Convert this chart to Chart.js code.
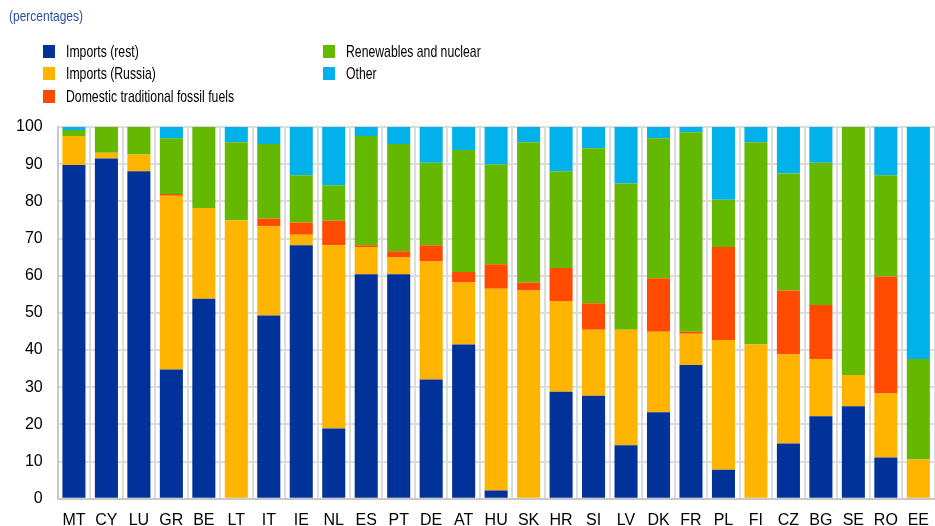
<!DOCTYPE html>
<html>
<head>
<meta charset="utf-8">
<script src="https://cdn.jsdelivr.net/npm/chart.js@4"></script>
<style>
  body { margin: 0; background: #fff; font-family: "Liberation Sans", Arial, sans-serif; }
  #wrap { position: relative; width: 935px; height: 526px; overflow: hidden; }
  #chart { position: absolute; left: 0; top: 0; }
  .title { position: absolute; left: 9px; top: 7px; font-size: 15px; color: #2a4ea6;
           transform: scaleX(0.8); transform-origin: left; white-space: nowrap; }
  .leg { position: absolute; height: 20px; white-space: nowrap; }
  .leg .sw { position: absolute; left: 0; top: 3px; width: 12px; height: 13px; }
  .leg .tx { position: absolute; left: 23px; top: 0; font-size: 17px; line-height: 20px; color: #000;
             transform: scaleX(0.72); transform-origin: left; }
</style>
</head>
<body>
<div id="wrap">
  <canvas id="chart" width="941" height="543"></canvas>
  <div class="title">(percentages)</div>
  <div id="legend"></div>
</div>
<script>
// dados
const paises = ['MT', 'CY', 'LU', 'GR', 'BE', 'LT', 'IT', 'IE', 'NL', 'ES', 'PT', 'DE', 'AT', 'HU',
    'SK', 'HR', 'SI', 'LV', 'DK', 'FR', 'PL', 'FI', 'CZ', 'BG', 'SE', 'RO', 'EE'];

const importsRest = [89.8, 91.5, 88.1, 34.8, 53.8, 0, 49.3, 68.2, 18.9, 60.4, 60.4, 32.1, 41.5, 2.2,
    0, 28.8, 27.7, 14.4, 23.3, 36.0, 7.8, 0, 14.9, 22.2, 24.9, 11.1, 0];
const importsRussia = [7.8, 1.6, 4.5, 46.7, 24.4, 74.9, 24.0, 2.8, 49.3, 7.3, 4.5, 31.7, 16.7, 54.3,
    56.0, 24.4, 17.8, 31.1, 21.6, 8.4, 34.9, 41.5, 23.9, 15.4, 8.4, 17.2, 10.6];
const domesticFossil = [0, 0, 0, 0.5, 0, 0, 2.1, 3.3, 6.6, 0.5, 1.7, 4.4, 2.8, 6.6,
    2.2, 8.9, 7.1, 0, 14.4, 0.5, 25.0, 0, 17.2, 14.5, 0, 31.5, 0];
const renewablesNuclear = [1.6, 7.3, 7.5, 15.0, 22.0, 21.0, 20.0, 12.7, 9.5, 29.4, 28.8, 22.2, 32.8, 26.8,
    37.7, 26.0, 41.7, 39.3, 37.7, 53.7, 12.7, 54.4, 31.5, 38.3, 67.1, 27.2, 27.0];
const other = [0.8, 0, 0, 3.0, 0, 4.1, 4.6, 13.0, 15.7, 2.4, 4.6, 9.6, 6.2, 10.1,
    4.1, 11.9, 5.7, 15.2, 3.0, 1.4, 19.6, 4.1, 12.5, 9.6, 0, 13.0, 62.4];

const yTicks = [0, 10, 20, 30, 40, 50, 60, 70, 80, 90, 100];

const series = [
    { label: 'Imports (rest)', data: importsRest, cor: '#003299' },
    { label: 'Imports (Russia)', data: importsRussia, cor: '#ffb400' },
    { label: 'Domestic traditional fossil fuels', data: domesticFossil, cor: '#ff4b00' },
    { label: 'Renewables and nuclear', data: renewablesNuclear, cor: '#65b800' },
    { label: 'Other', data: other, cor: '#00b1ea' }
];

// legenda em duas colunas
const legendPos = [[43, 42], [43, 64], [43, 87], [323, 42], [323, 64]];
const legendEl = document.getElementById('legend');
series.forEach((s, i) => {
    const d = document.createElement('div');
    d.className = 'leg';
    d.style.left = legendPos[i][0] + 'px';
    d.style.top = legendPos[i][1] + 'px';
    d.innerHTML = '<span class="sw" style="background:' + s.cor + '"></span><span class="tx">' + s.label + '</span>';
    legendEl.appendChild(d);
});

const ctx = document.getElementById('chart').getContext('2d');
new Chart(ctx, {
    type: 'bar',
    data: {
        labels: paises,
        datasets: series.map(s => ({
            label: s.label,
            data: s.data,
            backgroundColor: s.cor,
            borderWidth: 0,
            categoryPercentage: 1,
            barPercentage: 0.71
        }))
    },
    options: {
        responsive: false,
        animation: false,
        layout: { padding: { top: 127, left: 1, right: 0, bottom: 1 } },
        plugins: {
            legend: { display: false },
            title: { display: false },
            tooltip: { enabled: false }
        },
        scales: {
            x: {
                stacked: true,
                grid: { color: '#dcdcdc', lineWidth: 2, drawTicks: false },
                border: { color: '#c8c8c8', width: 2 },
                ticks: { color: '#000', font: { family: 'Liberation Sans', size: 16 }, padding: 12, maxRotation: 0, autoSkip: false }
            },
            y: {
                stacked: true,
                min: 0,
                max: 100,
                afterBuildTicks: axis => { axis.ticks = yTicks.map(v => ({ value: v })); },
                grid: { color: '#dcdcdc', lineWidth: 2, drawTicks: false },
                border: { color: '#c8c8c8', width: 2 },
                ticks: { color: '#000', font: { family: 'Liberation Sans', size: 16 }, padding: 15 }
            }
        }
    }
});
</script>
</body>
</html>
